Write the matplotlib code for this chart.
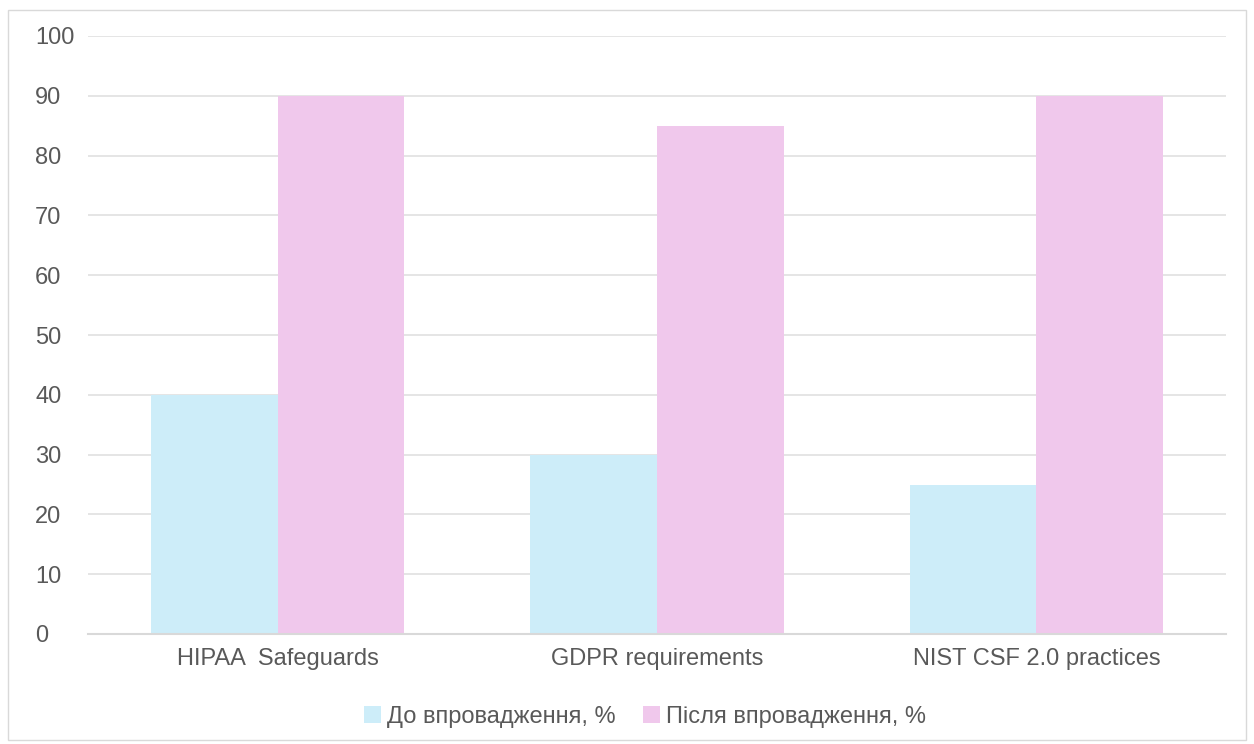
import matplotlib
matplotlib.use("Agg")
import matplotlib.pyplot as plt
import numpy as np
from matplotlib.patches import Rectangle

plt.rcParams['font.family'] = ['Liberation Sans', 'DejaVu Sans']

# --- Data ---
categories = ["HIPAA  Safeguards", "GDPR requirements", "NIST CSF 2.0 practices"]
before = [40, 30, 25]
after = [90, 85, 90]
series_names = ["До впровадження, %", "Після впровадження, %"]
y_ticks = list(range(0, 101, 10))

BLUE = "#cdedf9"
PINK = "#f0c8ec"
TEXT = "#595959"
GRID = "#e3e3e3"
FS = 17

fig = plt.figure(figsize=(12.54, 7.44), dpi=100)
# outer border of the chart
fig.patches.append(Rectangle((8 / 1254, 4 / 744), 1238 / 1254, 730 / 744,
                             transform=fig.transFigure, fill=False,
                             edgecolor="#d9d9d9", linewidth=1))

ax = fig.add_axes([88 / 1254, 1 - 634 / 744, 1138 / 1254, 598 / 744])

x = np.arange(len(categories))
w = 0.334
b1 = ax.bar(x - w / 2, before, width=w, color=BLUE, label=series_names[0], zorder=2)
b2 = ax.bar(x + w / 2, after, width=w, color=PINK, label=series_names[1], zorder=2)

ax.set_xlim(-0.5, len(categories) - 0.5)
ax.set_ylim(0, 100)
ax.set_yticks(y_ticks)
ax.yaxis.grid(True, color=GRID, linewidth=1.3, zorder=0)
ax.set_axisbelow(True)
for s in ["top", "right", "left"]:
    ax.spines[s].set_visible(False)
ax.spines["bottom"].set_color("#d9d9d9")
ax.spines["bottom"].set_linewidth(1.5)
ax.tick_params(axis="both", length=0, colors=TEXT, labelsize=FS)
ax.tick_params(axis="y", pad=38)
ax.tick_params(axis="x", pad=10)
for lab in ax.get_yticklabels():
    lab.set_horizontalalignment("left")
ax.set_xticks(x)
ax.set_xticklabels(categories)

leg = fig.legend(handles=[b1, b2], loc="center", bbox_to_anchor=(645 / 1254, 1 - 717 / 744),
                 ncol=2, frameon=False, fontsize=FS, handlelength=0.7, handleheight=0.7,
                 handletextpad=0.25, columnspacing=1.2)
for t in leg.get_texts():
    t.set_color(TEXT)

fig.savefig("out.png", dpi=100)
